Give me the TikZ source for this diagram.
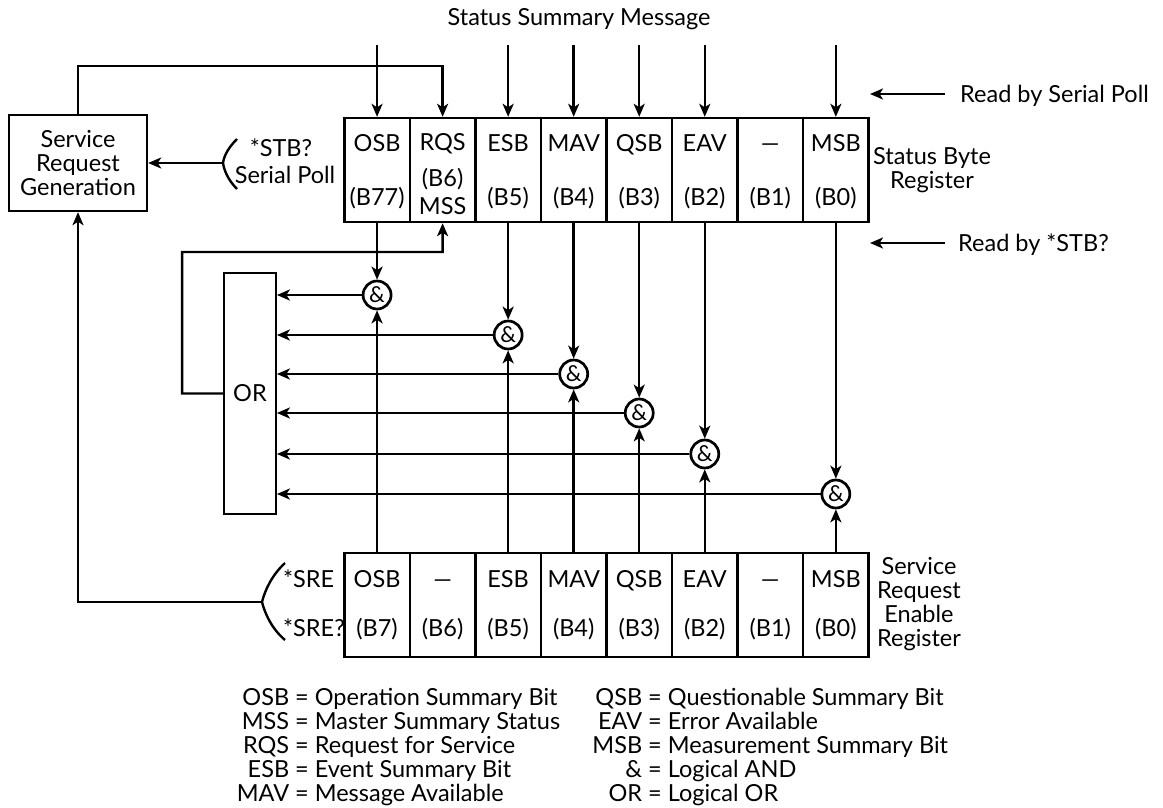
\documentclass[tikz,border=0pt]{standalone}
\usepackage{fontspec}
\setmainfont{Lato}
\usetikzlibrary{arrows.meta}
\begin{document}
\begin{tikzpicture}[x=1pt,y=-1pt,
  every node/.style={font=\fontsize{23.5}{24}\selectfont, inner sep=0pt},
  conn/.style={line width=2.4pt},
  arr/.style={conn, -{Stealth[length=13pt,width=11pt,inset=3.5pt]}},
  cellbox/.style={draw, line width=2.4pt, minimum width=65.54pt, minimum height=104pt},
  gate/.style={draw, circle, line width=2.7pt, minimum size=28pt, font=\fontsize{22}{22}\selectfont},
  lbl/.style={text height=16.5pt, text depth=0pt},
]
\useasboundingbox (0,0) rectangle (1163,808);

% title
\node[lbl] (title) at (579,17) {Status Summary Message};

% Service Request Generation
\node[draw, line width=2.4pt, minimum width=138pt, minimum height=96pt, align=center] (srg) at (78,163) {Service\\Request\\Generation};

% Status Byte Register cells
\foreach \i in {0,...,7} \node[cellbox] (sb\i) at ({344.3+65.54*(\i+0.5)},170) {};
\foreach \i/\a/\b in {0/OSB/B77,2/ESB/B5,3/MAV/B4,4/QSB/B3,5/EAV/B2,6/\textemdash/B1,7/MSB/B0}{
  \node[lbl] (sbt\i) at ({344.3+65.54*(\i+0.5)},143) {\a};
  \node[lbl] (sbb\i) at ({344.3+65.54*(\i+0.5)},197) {(\b)};
}
\node[lbl] (sbt1) at (442.61,142) {RQS};
\node[lbl] (sbm1) at (442.61,178) {(B6)};
\node[lbl] (sbb1) at (442.61,206) {MSS};

% top arrows
\foreach \i in {0,2,3,4,5,7}{
  \coordinate (top\i) at ({344.3+65.54*(\i+0.5)},45);
  \draw[arr] (top\i) -- (sb\i.north);
}
\draw[arr] (srg.north) -- ++(0,-48) -| (sb1.north);

% Serial poll brace
\coordinate (stbb) at (223,163);
\draw[conn] (237,139) .. controls (228,148) and (224,156) .. (stbb) .. controls (224,170) and (228,180) .. (237,189);
\draw[arr] (stbb) -- (srg.east);
\node[lbl] (stb) at (281,148) {*STB?};
\node[lbl] (sp) at (285,175) {Serial Poll};

% right side labels
\node[lbl, anchor=west] (rsp) at (960,94) {Read by Serial Poll};
\coordinate (rspA) at (945,94);
\coordinate (rspB) at (870,94);
\draw[arr] (rspA) -- (rspB);
\node[align=center] (sbl) at (932,170) {Status Byte\\Register};
\node[lbl, anchor=west] (rstb) at (958,243) {Read by *STB?};
\coordinate (rstbA) at (945,243);
\coordinate (rstbB) at (870,243);
\draw[arr] (rstbA) -- (rstbB);

% SRE register
\foreach \i in {0,...,7} \node[cellbox] (se\i) at ({344.3+65.54*(\i+0.5)},605) {};
\foreach \i/\a/\b in {0/OSB/B7,1/\textemdash/B6,2/ESB/B5,3/MAV/B4,4/QSB/B3,5/EAV/B2,6/\textemdash/B1,7/MSB/B0}{
  \node[lbl] (set\i) at ({344.3+65.54*(\i+0.5)},579) {\a};
  \node[lbl] (seb\i) at ({344.3+65.54*(\i+0.5)},628) {(\b)};
}
\node[align=center] (sel) at (919,604) {Service\\Request\\Enable\\Register};

% OR box
\node[draw, line width=1.8pt, minimum width=52pt, minimum height=241pt] (orb) at (250,393.5) {OR};

% gates
\foreach \k/\i/\y in {1/0/295,2/2/335,3/3/374,4/4/413,5/5/454,6/7/494}{
  \node[gate] (g\k) at ({344.3+65.54*(\i+0.5)},\y) {\&};
  \draw[arr] (sb\i.south) -- (g\k.north);
  \draw[arr] (se\i.north) -- (g\k.south);
  \draw[arr] (g\k.west) -- (g\k.west -| orb.east);
}

% feedback OR -> RQS
\coordinate (fb) at (442.61,252);
\draw[arr] (orb.west) -- ++(-41,0) |- (fb) -- (sb1.south);

% SRE brace
\coordinate (sreb) at (262,602);
\draw[conn] (285,563) .. controls (272,575) and (265,590) .. (sreb) .. controls (265,614) and (272,629) .. (285,640);
\draw[arr] (sreb) -| (srg.south);
\node[lbl, anchor=west] (sre) at (283,579) {*SRE};
\node[lbl, anchor=west] (sreq) at (283,628) {*SRE?};

% legend
\node[lbl, anchor=west] (l1) at (295,697) {\llap{OSB }= Operation Summary Bit};
\node[lbl, anchor=west] (l2) at (295,721) {\llap{MSS }= Master Summary Status};
\node[lbl, anchor=west] (l3) at (295,745) {\llap{RQS }= Request for Service};
\node[lbl, anchor=west] (l4) at (295,769) {\llap{ESB }= Event Summary Bit};
\node[lbl, anchor=west] (l5) at (295,793) {\llap{MAV }= Message Available};
\node[lbl, anchor=west] (r1) at (648,697) {\llap{QSB }= Questionable Summary Bit};
\node[lbl, anchor=west] (r2) at (648,721) {\llap{EAV }= Error Available};
\node[lbl, anchor=west] (r3) at (648,745) {\llap{MSB }= Measurement Summary Bit};
\node[lbl, anchor=west] (r4) at (648,769) {\llap{\& }= Logical AND};
\node[lbl, anchor=west] (r5) at (648,793) {\llap{OR }= Logical OR};
\end{tikzpicture}
\end{document}
